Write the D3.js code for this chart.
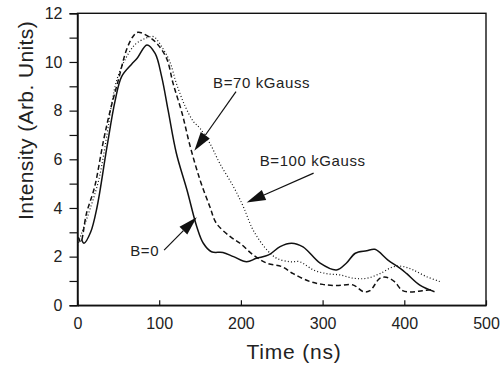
<!DOCTYPE html>
<html>
<head>
<meta charset="utf-8">
<script src="https://cdn.jsdelivr.net/npm/d3@7"></script>
<style>
  body { margin: 0; background: #fff; }
  svg { display: block; font-family: "Liberation Sans", Arial, sans-serif; }
</style>
</head>
<body>
<svg id="chart" width="504" height="369"></svg>
<script>
// B = 0 (solid)
const timeB0 = [5, 8, 16, 24, 36, 46, 54, 66, 73, 85, 95, 103, 111, 121, 134, 146, 154, 164, 178, 191, 207, 219, 234, 248, 262, 276, 297, 317, 329, 340, 354, 364, 380, 395, 403, 419, 437];
const intB0 = [2.7, 2.55, 3.0, 4.05, 6.5, 8.4, 9.4, 9.9, 10.15, 10.7, 10.35, 9.4, 8.0, 6.25, 4.74, 3.23, 2.55, 2.2, 2.17, 2.0, 1.79, 1.93, 2.07, 2.41, 2.55, 2.4, 1.73, 1.45, 1.73, 2.14, 2.24, 2.3, 1.86, 1.52, 1.3, 0.83, 0.56];

// B = 70 kGauss (dashed)
const timeB70 = [1, 4, 11, 21, 32, 40, 50, 60, 68, 74, 87, 97, 109, 117, 128, 138, 150, 162, 170, 187, 199, 215, 232, 250, 264, 285, 300, 317, 337, 350, 358, 370, 378, 388, 398, 410, 422, 434];
const intB70 = [2.8, 2.6, 3.78, 4.87, 6.8, 8.0, 9.26, 10.5, 11.05, 11.22, 11.04, 10.77, 10.15, 9.12, 7.89, 6.52, 5.15, 4.05, 3.37, 2.82, 2.55, 2.07, 1.73, 1.59, 1.3, 0.97, 0.86, 0.81, 0.84, 0.56, 0.6, 1.11, 1.15, 0.97, 0.6, 0.55, 0.6, 0.64];

// B = 100 kGauss (dotted)
const timeB100 = [0, 5, 15, 26, 36, 42, 48, 58, 70, 83, 93, 103, 113, 121, 132, 142, 150, 162, 174, 191, 203, 215, 232, 244, 260, 272, 289, 305, 321, 338, 354, 370, 387, 399, 411, 427, 444];
const intB100 = [2.45, 2.96, 3.92, 5.15, 7.0, 8.3, 9.25, 10.08, 10.7, 10.97, 11.04, 10.63, 10.01, 9.12, 8.16, 7.55, 7.27, 6.66, 5.84, 4.87, 4.05, 3.09, 2.27, 1.93, 1.79, 1.79, 1.45, 1.3, 1.25, 1.11, 1.11, 1.3, 1.59, 1.59, 1.45, 1.18, 0.97];

const xTicks = [0, 100, 200, 300, 400, 500];
const yTicks = [0, 2, 4, 6, 8, 10, 12];

const labelText = ["B=70 kGauss", "B=100 kGauss", "B=0"];
const labelAt = [[166, 8.95], [223, 5.72], [100, 2.03]];
const arrowFrom = [[194, 8.78], [289, 5.43], [106, 2.27]];
const arrowTo = [[143, 6.35], [207, 4.22], [146, 3.62]];

const width = 504, height = 369;
const margin = { top: 13.3, right: 18, bottom: 63.7, left: 77.5 };

const svg = d3.select("#chart");

const x = d3.scaleLinear().domain([0, 500]).range([margin.left, width - margin.right]);
const y = d3.scaleLinear().domain([0, 12]).range([height - margin.bottom, margin.top]);

// frame
svg.append("rect")
  .attr("x", x(0)).attr("y", y(12))
  .attr("width", x(500) - x(0)).attr("height", y(0) - y(12))
  .attr("fill", "none").attr("stroke", "#111").attr("stroke-width", 1.4);

// y axis: ticks at every integer, labels every 2
const yAxis = svg.append("g")
  .attr("transform", `translate(${x(0)},0)`)
  .call(d3.axisLeft(y).tickValues(d3.range(0, 13)).tickSize(8)
    .tickFormat(d => yTicks.includes(d) ? d : ""));
yAxis.select(".domain").attr("stroke-width", 1.4).attr("stroke", "#111");
yAxis.selectAll(".tick line").attr("stroke-width", 1.2).attr("stroke", "#111");
yAxis.selectAll(".tick text")
  .attr("x", -15).attr("font-size", 16).attr("fill", "#222")
  .attr("font-family", "Liberation Sans, Arial, sans-serif");

// x axis: small inward ticks
const xAxis = svg.append("g")
  .attr("transform", `translate(0,${y(0)})`)
  .call(d3.axisBottom(x).tickValues(xTicks).tickSizeInner(-5).tickSizeOuter(0));
xAxis.select(".domain").attr("stroke-width", 1.4).attr("stroke", "#111");
xAxis.selectAll(".tick line").attr("stroke-width", 1.2).attr("stroke", "#111");
xAxis.selectAll(".tick text")
  .attr("y", 12).attr("dy", "0.71em").attr("font-size", 16).attr("fill", "#222")
  .attr("font-family", "Liberation Sans, Arial, sans-serif");

// axis titles
svg.append("text")
  .attr("x", 294).attr("y", 359)
  .attr("text-anchor", "middle").attr("font-size", 21).attr("fill", "#222")
  .attr("letter-spacing", 0.8)
  .text("Time (ns)");

svg.append("text")
  .attr("transform", `translate(33,${y(7.6)}) rotate(-90)`)
  .attr("text-anchor", "middle").attr("font-size", 21).attr("fill", "#222")
  .attr("letter-spacing", 0.4)
  .text("Intensity (Arb. Units)");

// curves
const line = d3.line()
  .x(d => x(d[0])).y(d => y(d[1]))
  .curve(d3.curveCatmullRom.alpha(0.5));

const series = [
  { t: timeB0, v: intB0, dash: null, w: 1.5 },
  { t: timeB70, v: intB70, dash: "5,3", w: 1.5 },
  { t: timeB100, v: intB100, dash: "1,2.2", w: 1.2 }
];

svg.append("g").selectAll("path")
  .data(series)
  .join("path")
  .attr("d", s => line(s.t.map((t, i) => [t, s.v[i]])))
  .attr("fill", "none")
  .attr("stroke", "#111")
  .attr("stroke-width", s => s.w)
  .attr("stroke-dasharray", s => s.dash);

// annotations
const notes = svg.append("g");
labelText.forEach((txt, i) => {
  const x1 = x(arrowFrom[i][0]), y1 = y(arrowFrom[i][1]);
  const x2 = x(arrowTo[i][0]), y2 = y(arrowTo[i][1]);
  const len = Math.hypot(x2 - x1, y2 - y1);
  const ux = (x2 - x1) / len, uy = (y2 - y1) / len;
  const headLen = 19, headW = 5.5;
  const bx = x2 - ux * headLen, by = y2 - uy * headLen;

  notes.append("line")
    .attr("x1", x1).attr("y1", y1).attr("x2", bx).attr("y2", by)
    .attr("stroke", "#111").attr("stroke-width", 1.2);

  notes.append("path")
    .attr("d", `M${x2},${y2}L${bx - uy * headW},${by + ux * headW}L${bx + uy * headW},${by - ux * headW}Z`)
    .attr("fill", "#111");

  notes.append("text")
    .attr("x", x(labelAt[i][0])).attr("y", y(labelAt[i][1]))
    .attr("text-anchor", i === 2 ? "end" : "start")
    .attr("font-size", 15).attr("letter-spacing", 0.6).attr("fill", "#222")
    .text(txt);
});
</script>
</body>
</html>
